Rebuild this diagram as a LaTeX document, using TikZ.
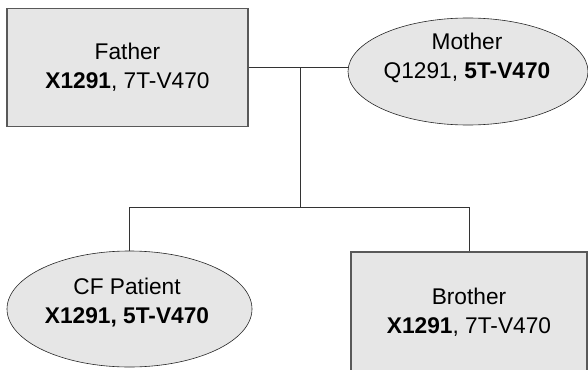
\documentclass[tikz,border=0pt]{standalone}
\usepackage{fontspec}
\setmainfont{Liberation Sans}
\usetikzlibrary{shapes.geometric}
\definecolor{boxgray}{HTML}{E6E6E6}
\newcommand\lblfont{\fontsize{22.7}{29}\selectfont}
\begin{document}
\begin{tikzpicture}[x=1pt,y=-1pt,
  box/.style={draw=black!65, line width=1.1pt, fill=boxgray, inner sep=0pt, align=center, font=\lblfont},
  oval/.style={ellipse, draw=black!85, line width=0.6pt, fill=boxgray, inner sep=0pt},
  lbl/.style={align=center, font=\lblfont, inner sep=0pt},
  conn/.style={draw=black!80, line width=0.8pt}]
\useasboundingbox (0,0) rectangle (588,369);
\clip (0,0) rectangle (588,369);
\node[box, minimum width=241, minimum height=118] (father) at (127.5,67.5) {Father\\\textbf{X1291}, 7T-V470};
\node[oval, minimum width=240, minimum height=107] (mother) at (468,71.5) {};
\node[lbl] (mothertext) at (467,57.5) {Mother\\Q1291, \textbf{5T-V470}};
\node[oval, minimum width=245, minimum height=116] (patient) at (129.5,309) {};
\node[lbl] (patienttext) at (127,302.5) {CF Patient\\\textbf{X1291, 5T-V470}};
\node[box, minimum width=236, minimum height=121] (brother) at (469,312.5) {Brother\\\textbf{X1291}, 7T-V470};
\coordinate (j2) at (300,207);
\coordinate (j1) at (father.east -| j2);
\draw[conn] (father.east) -- (father.east -| mother.west);
\draw[conn] (j1) -- (j2);
\draw[conn] (patient.north) -- (patient.north |- j2) -- (brother.north |- j2) -- (brother.north);
\end{tikzpicture}
\end{document}
